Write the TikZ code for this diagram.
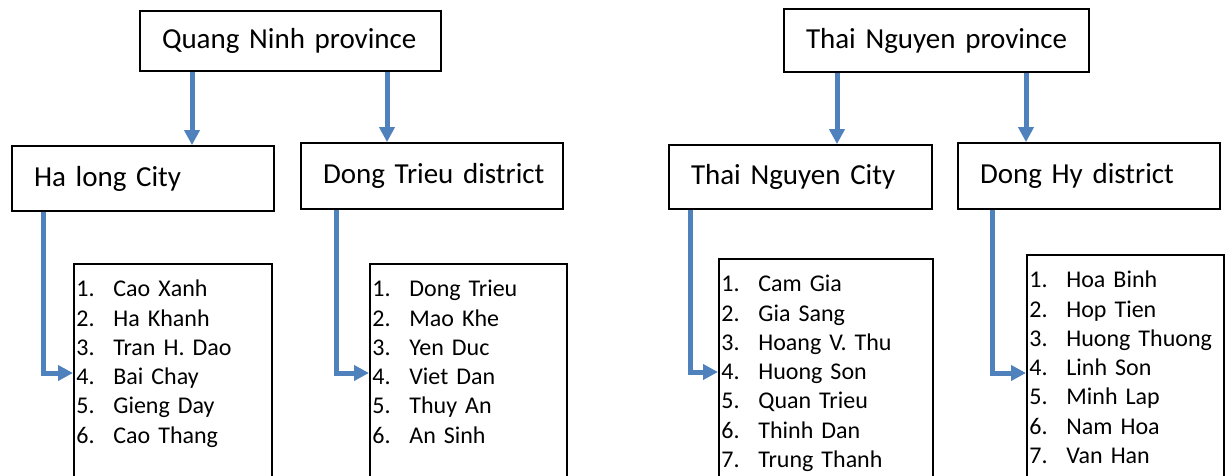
\documentclass[tikz,border=0pt]{standalone}
\usepackage{fontspec}
\setmainfont{Carlito}
\usetikzlibrary{arrows.meta,positioning}
\definecolor{arrowblue}{HTML}{4F81BD}
\newcommand{\itemno}[1]{\makebox[18.5pt][l]{#1.}}

\begin{document}
\begin{tikzpicture}[
    x=0.5pt,
    y=-0.5pt,
    title node/.style={rectangle,draw,line width=0.9pt,inner xsep=11pt,font=\fontsize{14.5}{17}\selectfont,
        execute at begin node={\hbox\bgroup},execute at end node={\egroup}},
    list node/.style={rectangle,draw,line width=0.9pt,anchor=north west,minimum height=120pt,inner sep=0pt},
    list text/.style={anchor=north west,inner sep=0pt,text width=95pt,font=\fontsize{12}{14.65}\selectfont},
    flow/.style={draw=arrowblue,line width=2.5pt,-{Triangle[length=7.5pt,width=7.5pt]}}
]
\useasboundingbox (0,0) rectangle (1226,476);
\clip (0,0) rectangle (1226,476);

% Provinces
\node[title node, text width=128.5pt, minimum height=30pt] (quang_ninh) at (290.5,41) {Quang Ninh province};
\node[title node, text width=130.5pt, minimum height=31.5pt] (thai_nguyen) at (936.5,40.5) {Thai Nguyen province};

% Cities and districts
\node[title node, text width=109pt, minimum height=32.5pt] (ha_long) at (143,178.5) {Ha long City};
\node[title node, text width=109pt, minimum height=33pt] (dong_trieu) at (432,176) {Dong Trieu district};
\node[title node, text width=109.5pt, minimum height=32pt] (thai_nguyen_city) at (800.5,177) {Thai Nguyen City};
\node[title node, text width=109pt, minimum height=33pt] (dong_hy) at (1089,176) {Dong Hy district};

% Lists of wards
\node[list node, minimum width=99pt] (ha_long_list) at (73,263) {};
\node[list node, minimum width=98.5pt] (dong_trieu_list) at (369,263) {};
\node[list node, minimum width=107pt] (thai_nguyen_list) at (718,258) {};
\node[list node, minimum width=98.5pt] (dong_hy_list) at (1026,254) {};

\node[list text] (ha_long_items) at ([xshift=1.5pt,yshift=-6.4pt]ha_long_list.north west)
    {\strut\itemno{1}Cao Xanh\\ \itemno{2}Ha Khanh\\ \itemno{3}Tran H. Dao\\ \itemno{4}Bai Chay\\ \itemno{5}Gieng Day\\ \itemno{6}Cao Thang};
\node[list text] (dong_trieu_items) at ([xshift=1.5pt,yshift=-6.4pt]dong_trieu_list.north west)
    {\strut\itemno{1}Dong Trieu\\ \itemno{2}Mao Khe\\ \itemno{3}Yen Duc\\ \itemno{4}Viet Dan\\ \itemno{5}Thuy An\\ \itemno{6}An Sinh};
\node[list text] (thai_nguyen_items) at ([xshift=1.5pt,yshift=-6.4pt]thai_nguyen_list.north west)
    {\strut\itemno{1}Cam Gia\\ \itemno{2}Gia Sang\\ \itemno{3}Hoang V. Thu\\ \itemno{4}Huong Son\\ \itemno{5}Quan Trieu\\ \itemno{6}Thinh Dan\\ \itemno{7}Trung Thanh};
\node[list text] (dong_hy_items) at ([xshift=1.5pt,yshift=-6.4pt]dong_hy_list.north west)
    {\strut\itemno{1}Hoa Binh\\ \itemno{2}Hop Tien\\ \itemno{3}Huong Thuong\\ \itemno{4}Linh Son\\ \itemno{5}Minh Lap\\ \itemno{6}Nam Hoa\\ \itemno{7}Van Han};

% Province to district arrows
\draw[flow] (quang_ninh.south -| 192,0) -- (ha_long.north -| 192,0);
\draw[flow] (quang_ninh.south -| 387,0) -- (dong_trieu.north -| 387,0);
\draw[flow] (thai_nguyen.south -| 837,0) -- (thai_nguyen_city.north -| 837,0);
\draw[flow] (thai_nguyen.south -| 1026,0) -- (dong_hy.north -| 1026,0);

% District to list arrows
\draw[flow] (ha_long.south -| 43,0) |- (ha_long_list.west |- 0,373);
\draw[flow] (dong_trieu.south -| 336,0) |- (dong_trieu_list.west |- 0,373);
\draw[flow] (thai_nguyen_city.south -| 690,0) |- (thai_nguyen_list.west |- 0,372);
\draw[flow] (dong_hy.south -| 992,0) |- (dong_hy_list.west |- 0,373);

\end{tikzpicture}
\end{document}
